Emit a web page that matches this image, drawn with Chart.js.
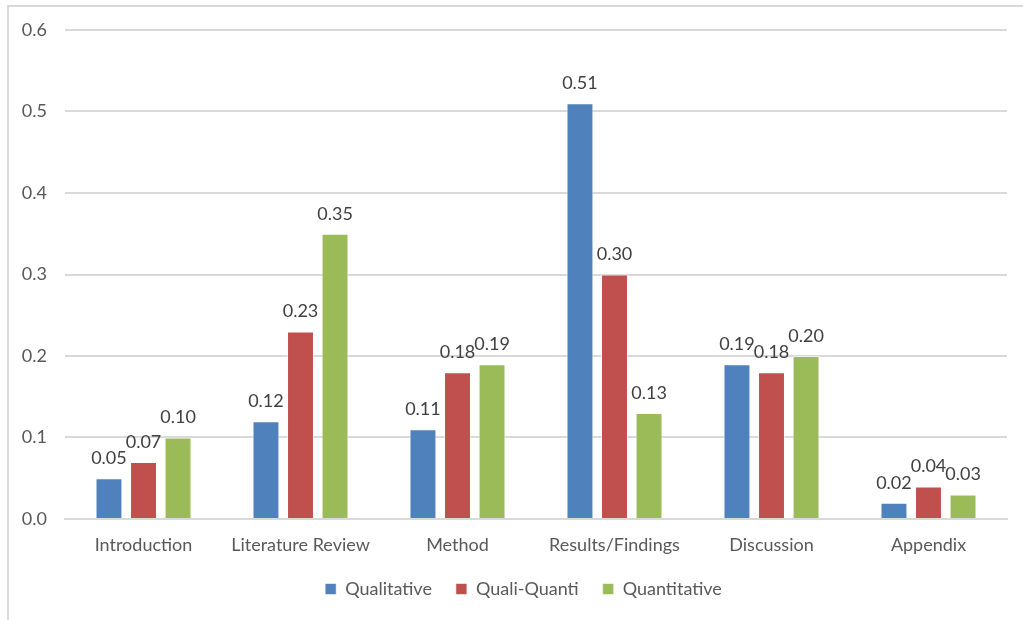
<!DOCTYPE html>
<html>
<head>
<meta charset="utf-8">
<script src="https://cdn.jsdelivr.net/npm/chart.js@4"></script>
<style>
  html, body { margin: 0; padding: 0; background: #ffffff; overflow: hidden; }
  #wrap { position: relative; width: 1023px; height: 620px; }
  #frame { position: absolute; left: 7px; top: 5px; width: 1040px; height: 640px;
           border-left: 2px solid #d9d9d9; border-top: 2px solid #d9d9d9; box-sizing: border-box; }
  canvas { position: absolute; left: 0; top: 0; }
</style>
</head>
<body>
<div id="wrap">
  <div id="frame"></div>
  <canvas id="c" width="1023" height="620"></canvas>
</div>
<script>
// Manuscript sections
const sections = ['Introduction', 'Literature Review', 'Method', 'Results/Findings', 'Discussion', 'Appendix'];
// Share per study type
const qualitative  = [0.05, 0.12, 0.11, 0.51, 0.19, 0.02];
const qualiQuanti  = [0.07, 0.23, 0.18, 0.30, 0.18, 0.04];
const quantitative = [0.10, 0.35, 0.19, 0.13, 0.20, 0.03];
const seriesNames  = ['Qualitative', 'Quali-Quanti', 'Quantitative'];
const yTicks       = [0, 0.1, 0.2, 0.3, 0.4, 0.5, 0.6];

const FONT = 'Lato, "Open Sans", "Liberation Sans", sans-serif';

// Writes each bar's value above it
const valueLabels = {
  id: 'valueLabels',
  afterDatasetsDraw(chart) {
    const ctx = chart.ctx;
    ctx.save();
    ctx.font = '18px ' + FONT;
    ctx.fillStyle = '#404040';
    ctx.textAlign = 'center';
    ctx.textBaseline = 'bottom';
    chart.data.datasets.forEach((ds, i) => {
      chart.getDatasetMeta(i).data.forEach((bar, j) => {
        ctx.fillText(ds.data[j].toFixed(2), bar.x, bar.y - 11);
      });
    });
    ctx.restore();
  }
};

// Centres the legend under the plot area rather than the whole canvas
const legendShift = {
  id: 'legendShift',
  afterLayout(chart) {
    const lg = chart.legend;
    if (lg) { lg.left += 20; lg.right += 20; }
  }
};

new Chart(document.getElementById('c'), {
  type: 'bar',
  data: {
    labels: sections,
    datasets: [
      { label: seriesNames[0], data: qualitative,  backgroundColor: '#4F81BD' },
      { label: seriesNames[1], data: qualiQuanti,  backgroundColor: '#C0504D' },
      { label: seriesNames[2], data: quantitative, backgroundColor: '#9BBB59' }
    ]
  },
  options: {
    responsive: false,
    animation: false,
    devicePixelRatio: 1,
    layout: { padding: { left: 0, right: 16, top: 30, bottom: 12 } },
    datasets: { bar: { categoryPercentage: 0.66, barPercentage: 0.78,
                       borderColor: 'rgba(255,255,255,0.55)', borderWidth: 1 } },
    scales: {
      x: {
        grid: { display: false, drawTicks: false },
        border: { color: '#d9d9d9', width: 2 },
        ticks: { color: '#595959', font: { family: FONT, size: 18 }, padding: 15, maxRotation: 0 },
        afterFit(s) { s.height = 37; }
      },
      y: {
        min: 0, max: 0.6,
        afterBuildTicks(s) { s.ticks = yTicks.map(v => ({ value: v })); },
        grid: { color: '#d9d9d9', lineWidth: 2, drawTicks: false },
        border: { display: false },
        ticks: { color: '#595959', font: { family: FONT, size: 18 }, padding: 18,
                 callback: v => Number(v).toFixed(1) },
        afterFit(s) { s.width = 65; }
      }
    },
    plugins: {
      legend: {
        position: 'bottom',
        labels: { color: '#595959', font: { family: FONT, size: 18 },
                  boxWidth: 11, boxHeight: 11, padding: 24 }
      },
      tooltip: { enabled: false }
    }
  },
  plugins: [valueLabels, legendShift]
});
</script>
</body>
</html>
